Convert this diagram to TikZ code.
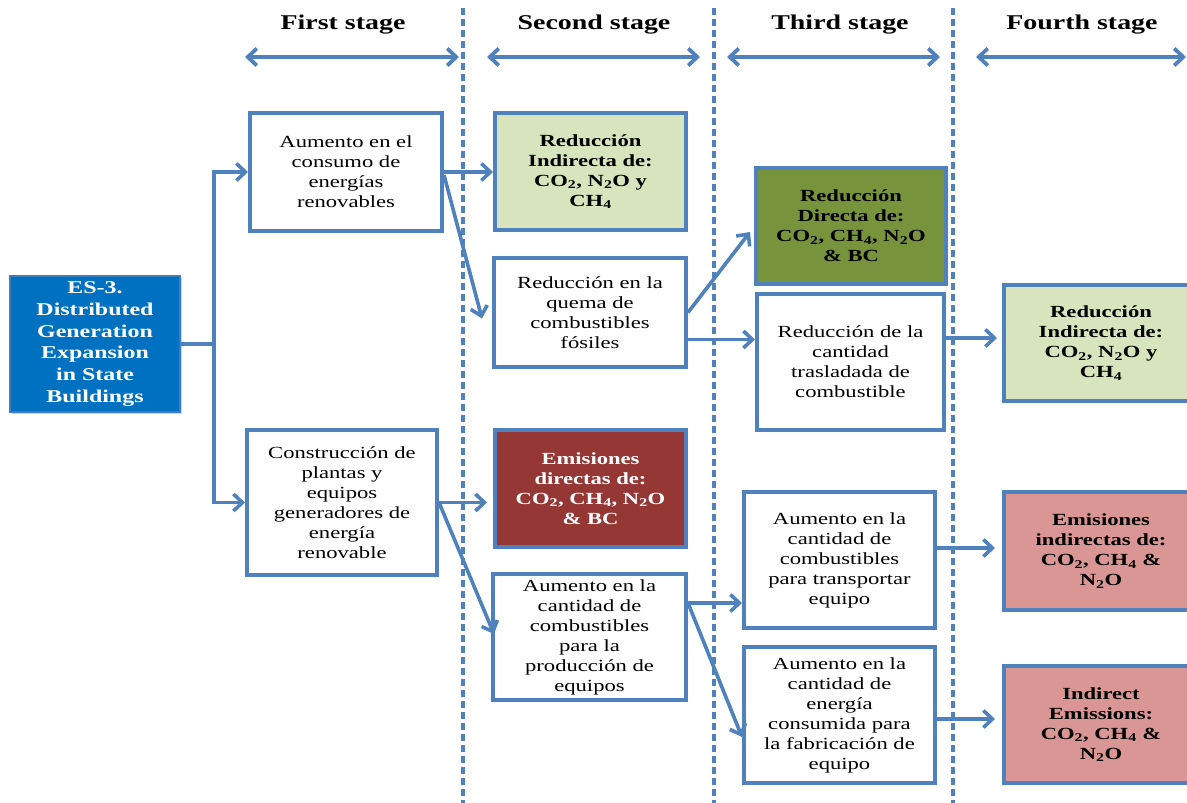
\documentclass[tikz,border=0pt]{standalone}
\usepackage{fontspec}
\setmainfont[FakeStretch=1.33]{Liberation Serif}
\usetikzlibrary{arrows.meta,calc,shadows}

\definecolor{edge}{HTML}{4F81BD}
\definecolor{esblue}{HTML}{0070C0}
\definecolor{paleg}{HTML}{D7E4BD}
\definecolor{oliveg}{HTML}{77933C}
\definecolor{darkred}{HTML}{953735}
\definecolor{pinkr}{HTML}{D99694}

\newcommand{\sub}[1]{\textsubscript{#1}}

\begin{document}
\begin{tikzpicture}[x=1pt,y=-1pt,
  box/.style={draw=edge, line width=4pt, fill=white, inner sep=0pt,
    align=center, font=\fontsize{17}{20}\selectfont,
    drop shadow={opacity=0.18, shadow xshift=1.5pt, shadow yshift=-1.5pt}},
  boldbox/.style={box, font=\fontsize{17}{20}\selectfont\bfseries},
  stagelabel/.style={font=\fontsize{21}{24}\selectfont\bfseries, inner sep=0pt},
  conn/.style={draw=edge, line width=3.6pt,
    -{Straight Barb[length=9pt,width=17pt,line width=3.6pt]}},
  span/.style={draw=edge, line width=3.8pt,
    {Straight Barb[length=9pt,width=17pt,line width=3.8pt]}-{Straight Barb[length=9pt,width=17pt,line width=3.8pt]}},
  trunkline/.style={draw=edge, line width=3.6pt},
  divider/.style={draw=edge, line width=3.8pt, dash pattern=on 7pt off 4pt}
]
\useasboundingbox (0,0) rectangle (1187,803);

% stage headings and their span arrows
\node[stagelabel] (s1) at (343,25) {First stage};
\node[stagelabel] (s2) at (594,25) {Second stage};
\node[stagelabel] (s3) at (840,25) {Third stage};
\node[stagelabel] (s4) at (1082,25) {Fourth stage};

\coordinate (a1l) at (245,57);  \coordinate (a1r) at (459,57);
\coordinate (a2l) at (487,57);  \coordinate (a2r) at (700,57);
\coordinate (a3l) at (727,57);  \coordinate (a3r) at (940,57);
\coordinate (a4l) at (976,57);  \coordinate (a4r) at (1186,57);
\draw[span] (a1l) -- (a1r);
\draw[span] (a2l) -- (a2r);
\draw[span] (a3l) -- (a3r);
\draw[span] (a4l) -- (a4r);

% stage dividers
\coordinate (d1t) at (463,8);  \coordinate (d1b) at (463,803);
\coordinate (d2t) at (714,8);  \coordinate (d2b) at (714,803);
\coordinate (d3t) at (953,8);  \coordinate (d3b) at (953,803);
\draw[divider] (d1t) -- (d1b);
\draw[divider] (d2t) -- (d2b);
\draw[divider] (d3t) -- (d3b);

% source measure
\node[draw=edge!80!esblue, line width=2pt, fill=esblue, text=white,
  inner sep=0pt, align=center, font=\fontsize{18}{21.7}\selectfont\bfseries,
  minimum width=170, minimum height=136,
  drop shadow={opacity=0.35, shadow xshift=2pt, shadow yshift=-2pt}]
  (es) at (95,344) {ES-3.\\Distributed\\Generation\\Expansion\\in State\\Buildings};

% first stage
\node[box, minimum width=192, minimum height=118] (aum) at (346,172)
  {Aumento en el\\consumo de\\energías\\renovables};
\node[box, minimum width=190, minimum height=145] (con) at (342,502.5)
  {Construcción de\\plantas y\\equipos\\generadores de\\energía\\renovable};

% second stage
\node[boldbox, fill=paleg, minimum width=191, minimum height=117] (gr2) at (590.5,171.5)
  {Reducción\\Indirecta de:\\CO\sub{2}, N\sub{2}O y\\CH\sub{4}};
\node[box, minimum width=192, minimum height=109] (que) at (590,312.5)
  {Reducción en la\\quema de\\combustibles\\fósiles};
\node[boldbox, fill=darkred, text=white, minimum width=191, minimum height=117] (red) at (590.5,488.5)
  {Emisiones\\directas de:\\CO\sub{2}, CH\sub{4}, N\sub{2}O\\\& BC};
\node[box, minimum width=193, minimum height=126] (pro) at (589.5,637)
  {Aumento en la\\cantidad de\\combustibles\\para la\\producción de\\equipos};

% third stage
\node[boldbox, fill=oliveg, minimum width=190, minimum height=116] (dkg) at (851,226)
  {Reducción\\Directa de:\\CO\sub{2}, CH\sub{4}, N\sub{2}O\\\& BC};
\node[box, minimum width=187, minimum height=136] (can) at (850.5,362)
  {Reducción de la\\cantidad\\trasladada de\\combustible};
\node[box, minimum width=191, minimum height=136] (tra) at (839.5,560)
  {Aumento en la\\cantidad de\\combustibles\\para transportar\\equipo};
\node[box, minimum width=191, minimum height=136] (ene) at (839.5,715)
  {Aumento en la\\cantidad de\\energía\\consumida para\\la fabricación de\\equipo};

% fourth stage (boxes run past the right margin)
\node[boldbox, fill=paleg, minimum width=194, minimum height=116] (gr4) at (1101,343)
  {Reducción\\Indirecta de:\\CO\sub{2}, N\sub{2}O y\\CH\sub{4}};
\node[boldbox, fill=pinkr, minimum width=194, minimum height=118] (pk1) at (1101,551)
  {Emisiones\\indirectas de:\\CO\sub{2}, CH\sub{4} \&\\N\sub{2}O};
\node[boldbox, fill=pinkr, minimum width=194, minimum height=117] (pk2) at (1101,724.5)
  {Indirect\\Emissions:\\CO\sub{2}, CH\sub{4} \&\\N\sub{2}O};

% connectors
\coordinate (trunk) at (214,344);
\draw[trunkline] (es.east) -- (trunk);
\draw[conn] (trunk) |- (aum.west);
\draw[conn] (trunk) |- (con.west);

\draw[conn] (aum.east) -- (aum.east -| gr2.west);
\draw[conn] ([yshift=-3pt]aum.east) -- ($(que.west)+(-10,6)$);

\draw[conn] (que.east) -- ($(dkg.west)+(-4,6)$);
\draw[conn] ([yshift=-27pt]que.east) -- ([yshift=-27pt]que.east -| can.west);
\draw[conn, shorten >=5pt] ([yshift=24pt]can.east) -- ([yshift=24pt]can.east -| gr4.west);

\draw[conn, shorten >=6pt] (con.east) -- (con.east -| red.west);
\draw[conn] (con.east) -- ($(pro.west)+(3,-3)$);

\draw[conn] ([yshift=34pt]pro.east) -- ([yshift=34pt]pro.east -| tra.west);
\draw[conn] ([yshift=34pt]pro.east) -- ($(ene.west)+(0,22)$);

\draw[conn, shorten >=7pt] ([yshift=12pt]tra.east) -- ([yshift=12pt]tra.east -| pk1.west);
\draw[conn, shorten >=7pt] ([yshift=-4pt]ene.east) -- ([yshift=-4pt]ene.east -| pk2.west);
\end{tikzpicture}
\end{document}
